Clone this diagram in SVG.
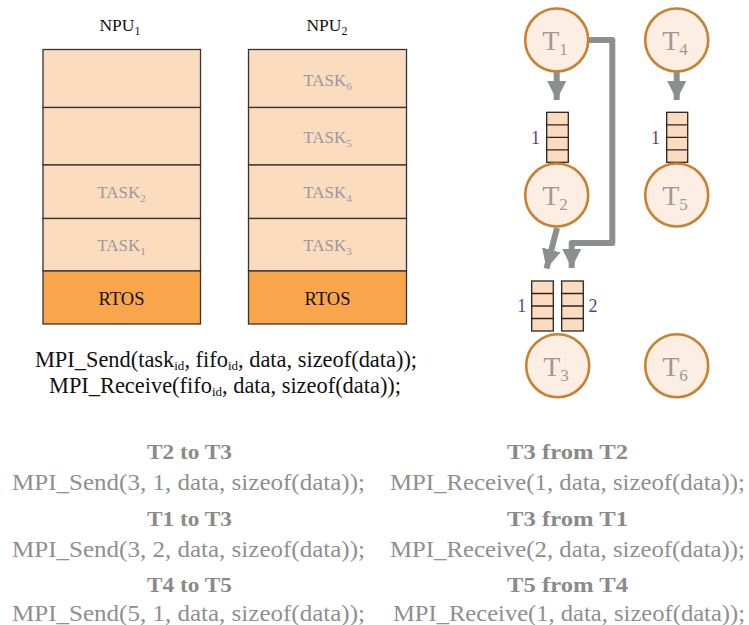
<svg xmlns="http://www.w3.org/2000/svg" width="749" height="625" viewBox="0 0 749 625">
  <style>
    .serif { font-family: "Liberation Serif", "DejaVu Serif", serif; }
    .lbl { font-size: 17.5px; fill: #111; text-anchor: middle; }
    .task { fill: #fcdcbf; stroke: #3a3030; stroke-width: 1.3; }
    .rtos { fill: #f8a54c; stroke: #3a3030; stroke-width: 1.3; }
    .tt { font-size: 17px; fill: #9a9a9a; text-anchor: middle; }
    .rt { font-size: 18.5px; fill: #111; text-anchor: middle; }
    .node { fill: #fdeee3; stroke: #c9802f; stroke-width: 2.6; }
    .nt { font-size: 28px; fill: #9a9a9a; text-anchor: middle; }
    .fifo { fill: #fcdcbf; stroke: #2a2424; stroke-width: 1.3; }
    .fl { font-size: 18px; fill: #5a3f8c; text-anchor: middle; }
    .conn { fill: none; stroke: #8d8e91; stroke-width: 6; stroke-linejoin: round; }
    .api { font-size: 22.4px; fill: #111; text-anchor: middle; }
    .hd { font-size: 22px; font-weight: bold; fill: #8a8a8a; text-anchor: middle; }
    .code { font-size: 23px; fill: #8f8f8f; text-anchor: middle; }
  </style>
  <defs>
    <marker id="ah" viewBox="0 0 10 10" refX="10" refY="5" markerWidth="3.2" markerHeight="3.2" markerUnits="strokeWidth" orient="auto">
      <path d="M0,0 L10,5 L0,10 Z" fill="#8d8e91"/>
    </marker>
  </defs>
  <rect width="749" height="625" fill="#ffffff"/>

  <!-- NPU 1 stack -->
  <g id="npu1" class="serif">
    <text class="lbl" x="120" y="31">NPU<tspan font-size="12" dy="4">1</tspan></text>
    <rect class="task" x="43" y="49.5" width="157.5" height="58"/>
    <rect class="task" x="43" y="107.5" width="157.5" height="57.5"/>
    <rect class="task" x="43" y="165" width="157.5" height="53.5"/>
    <text class="tt" x="121.5" y="198">TASK<tspan font-size="11" dy="4">2</tspan></text>
    <rect class="task" x="43" y="218.5" width="157.5" height="52.5"/>
    <text class="tt" x="121.5" y="251">TASK<tspan font-size="11" dy="4">1</tspan></text>
    <rect class="rtos" x="43" y="271" width="157.5" height="53"/>
    <text class="rt" x="121.5" y="305">RTOS</text>
  </g>

  <!-- NPU 2 stack -->
  <g id="npu2" class="serif">
    <text class="lbl" x="327" y="31">NPU<tspan font-size="12" dy="4">2</tspan></text>
    <rect class="task" x="248.5" y="49.5" width="158" height="58"/>
    <text class="tt" x="327.5" y="86">TASK<tspan font-size="11" dy="4">6</tspan></text>
    <rect class="task" x="248.5" y="107.5" width="158" height="57.5"/>
    <text class="tt" x="327.5" y="143">TASK<tspan font-size="11" dy="4">5</tspan></text>
    <rect class="task" x="248.5" y="165" width="158" height="53.5"/>
    <text class="tt" x="327.5" y="198">TASK<tspan font-size="11" dy="4">4</tspan></text>
    <rect class="task" x="248.5" y="218.5" width="158" height="52.5"/>
    <text class="tt" x="327.5" y="251">TASK<tspan font-size="11" dy="4">3</tspan></text>
    <rect class="rtos" x="248.5" y="271" width="158" height="53"/>
    <text class="rt" x="327.5" y="305">RTOS</text>
  </g>

  <!-- API signatures -->
  <g id="api" class="serif">
    <text class="api" x="226" y="367">MPI_Send(task<tspan font-size="13" dy="3">id</tspan><tspan dy="-3">, fifo</tspan><tspan font-size="13" dy="3">id</tspan><tspan dy="-3">, data, sizeof(data));</tspan></text>
    <text class="api" x="225" y="393">MPI_Receive(fifo<tspan font-size="13" dy="3">id</tspan><tspan dy="-3">, data, sizeof(data));</tspan></text>
  </g>

  <!-- connectors -->
  <g id="connectors">
    <path class="conn" d="M556.7,72 L556.7,100" marker-end="url(#ah)"/>
    <path class="conn" d="M676.7,72 L676.7,100" marker-end="url(#ah)"/>
    <path class="conn" d="M588.5,40 L612.3,40 L612.3,243 L571.7,243 L571.7,268" marker-end="url(#ah)"/>
    <path class="conn" d="M557,228 L546.5,268.5" marker-end="url(#ah)"/>
  </g>

  <!-- FIFOs -->
  <g id="fifo-t1-t2" class="serif">
    <rect class="fifo" x="546.7" y="112.3" width="21.6" height="50"/>
    <path class="fifo" d="M546.7,124.8 H568.3 M546.7,137.3 H568.3 M546.7,149.8 H568.3"/>
    <text class="fl" x="535.5" y="144">1</text>
  </g>
  <g id="fifo-t4-t5" class="serif">
    <rect class="fifo" x="666.7" y="112.3" width="21" height="50"/>
    <path class="fifo" d="M666.7,124.8 H687.7 M666.7,137.3 H687.7 M666.7,149.8 H687.7"/>
    <text class="fl" x="655.5" y="144">1</text>
  </g>
  <g id="fifo-t2-t3" class="serif">
    <rect class="fifo" x="531.7" y="281" width="21.6" height="50"/>
    <path class="fifo" d="M531.7,293.5 H553.3 M531.7,306 H553.3 M531.7,318.5 H553.3"/>
    <text class="fl" x="521.7" y="312">1</text>
  </g>
  <g id="fifo-t1-t3" class="serif">
    <rect class="fifo" x="561.7" y="281" width="21.6" height="50"/>
    <path class="fifo" d="M561.7,293.5 H583.3 M561.7,306 H583.3 M561.7,318.5 H583.3"/>
    <text class="fl" x="593" y="312">2</text>
  </g>

  <!-- task nodes -->
  <g id="t1" class="serif">
    <circle class="node" cx="556.7" cy="40" r="31.5"/>
    <text class="nt" x="555" y="50">T<tspan font-size="17" dy="5">1</tspan></text>
  </g>
  <g id="t4" class="serif">
    <circle class="node" cx="676.7" cy="40" r="31.5"/>
    <text class="nt" x="675" y="50">T<tspan font-size="17" dy="5">4</tspan></text>
  </g>
  <g id="t2" class="serif">
    <circle class="node" cx="556.7" cy="195" r="31.5"/>
    <text class="nt" x="555" y="205">T<tspan font-size="17" dy="5">2</tspan></text>
  </g>
  <g id="t5" class="serif">
    <circle class="node" cx="676.7" cy="195" r="31.5"/>
    <text class="nt" x="675" y="205">T<tspan font-size="17" dy="5">5</tspan></text>
  </g>
  <g id="t3" class="serif">
    <circle class="node" cx="557.7" cy="365.7" r="31.5"/>
    <text class="nt" x="556" y="376">T<tspan font-size="17" dy="5">3</tspan></text>
  </g>
  <g id="t6" class="serif">
    <circle class="node" cx="676.7" cy="365.7" r="31.5"/>
    <text class="nt" x="675" y="376">T<tspan font-size="17" dy="5">6</tspan></text>
  </g>

  <!-- example calls -->
  <g id="examples" class="serif">
    <text class="hd" x="189.5" y="459" textLength="85" lengthAdjust="spacingAndGlyphs">T2 to T3</text>
    <text class="code" x="188.5" y="490" textLength="353" lengthAdjust="spacingAndGlyphs">MPI_Send(3, 1, data, sizeof(data));</text>
    <text class="hd" x="189.5" y="526" textLength="85" lengthAdjust="spacingAndGlyphs">T1 to T3</text>
    <text class="code" x="188.5" y="557" textLength="353" lengthAdjust="spacingAndGlyphs">MPI_Send(3, 2, data, sizeof(data));</text>
    <text class="hd" x="189.5" y="592" textLength="85" lengthAdjust="spacingAndGlyphs">T4 to T5</text>
    <text class="code" x="188.5" y="621" textLength="353" lengthAdjust="spacingAndGlyphs">MPI_Send(5, 1, data, sizeof(data));</text>

    <text class="hd" x="567.5" y="459" textLength="121" lengthAdjust="spacingAndGlyphs">T3 from T2</text>
    <text class="code" x="567.5" y="490" textLength="355" lengthAdjust="spacingAndGlyphs">MPI_Receive(1, data, sizeof(data));</text>
    <text class="hd" x="567.5" y="526" textLength="121" lengthAdjust="spacingAndGlyphs">T3 from T1</text>
    <text class="code" x="567.5" y="557" textLength="355" lengthAdjust="spacingAndGlyphs">MPI_Receive(2, data, sizeof(data));</text>
    <text class="hd" x="567.5" y="592" textLength="121" lengthAdjust="spacingAndGlyphs">T5 from T4</text>
    <text class="code" x="569" y="621" textLength="352" lengthAdjust="spacingAndGlyphs">MPI_Receive(1, data, sizeof(data));</text>
  </g>
</svg>
